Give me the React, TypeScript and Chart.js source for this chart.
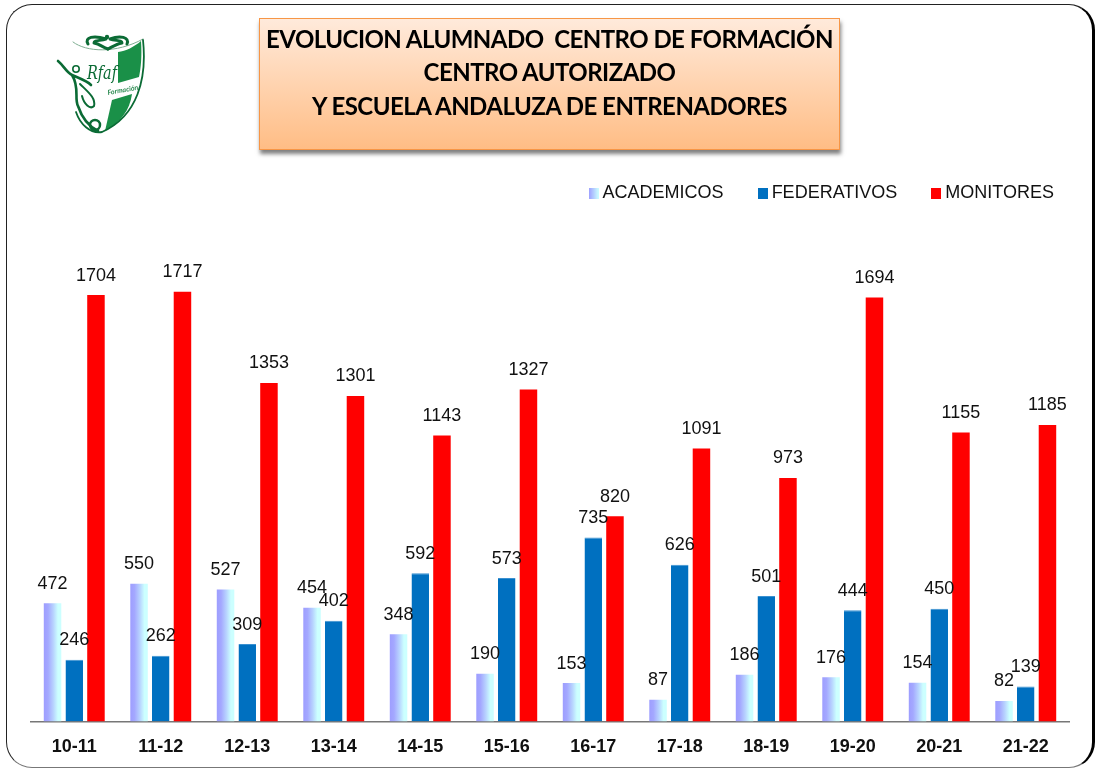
import React, { useEffect, useRef } from "react";
import { Chart, registerables } from "chart.js";

Chart.register(...registerables);

const categories = ["10-11","11-12","12-13","13-14","14-15","15-16","16-17","17-18","18-19","19-20","20-21","21-22"];
const academicos = [472,550,527,454,348,190,153,87,186,176,154,82];
const federativos = [246,262,309,402,592,573,735,626,501,444,450,139];
const monitores = [1704,1717,1353,1301,1143,1327,820,1091,973,1694,1155,1185];
const titleLines = ["EVOLUCION ALUMNADO\u00a0\u00a0CENTRO DE FORMACIÓN","CENTRO AUTORIZADO","Y ESCUELA ANDALUZA DE ENTRENADORES"];

const ARIAL = '"Liberation Sans", Arial, sans-serif';

function swatch(fill: (c: CanvasRenderingContext2D) => void) {
  const cv = document.createElement("canvas");
  cv.width = 10; cv.height = 11;
  const c = cv.getContext("2d")!;
  fill(c);
  c.fillRect(0, 0, 10, 11);
  return cv;
}

const valueLabels = {
  id: "valueLabels",
  afterLayout(chart: any) {
    chart.legend.right = 1093;
  },
  afterDatasetsDraw(chart: any) {
    const { ctx } = chart;
    ctx.save();
    ctx.font = `18px ${ARIAL}`;
    ctx.fillStyle = "#111";
    ctx.textAlign = "center";
    ctx.textBaseline = "middle";
    chart.data.datasets.forEach((ds: any, i: number) => {
      chart.getDatasetMeta(i).data.forEach((bar: any, j: number) => {
        ctx.fillText(String(ds.data[j]), bar.x, bar.y - 19.5);
      });
    });
    ctx.restore();
  },
};

function Logo() {
  const dark = "#0b6b35";
  return (
    <svg width="100" height="110" viewBox="0 0 100 110" style={{ position: "absolute", left: 50, top: 28, filter: "blur(0.35px)" }}>
      <path d="M68 24 C76 23 84 19 91 13 C92 28 91 40 89 49 L68 55 Z" fill="#1a9048" />
      <path d="M82 66 C80 82 70 95 55 103 L62 72 Z" fill="#1a9048" />
      <g fill="none" stroke={dark} strokeLinecap="round" strokeLinejoin="round">
        <path d="M23 14 C36 24 66 26 93 11" stroke="#7fae92" strokeWidth="1" />
        <path d="M38 16 C34 9 44 7 56 11 C50 13 44 12 44 15 C50 16 52 19 58 21" strokeWidth="3" />
        <path d="M77 16 C80 9 70 7 60 11 C66 13 72 12 72 15 C66 16 62 19 58 21" strokeWidth="3" />
        <path d="M93 12 C97 50 88 88 52 104 C40 106 30 96 26 84" strokeWidth="1.8" />
        <path d="M8 33 C14 38 16 44 22 47 C28 50 36 52 41 57 M22 47 C30 60 24 70 28 78 C32 90 38 98 48 103" strokeWidth="2.6" />
        <path d="M30 56 C38 64 46 70 44 78 C40 82 34 76 32 68" strokeWidth="2" />
      </g>
      <circle cx="45" cy="97" r="5" fill="none" stroke={dark} strokeWidth="2.5" />
      <circle cx="57" cy="9" r="2.2" fill={dark} />
      <circle cx="26" cy="41" r="3.2" fill="none" stroke={dark} strokeWidth="1.6" />
      <text x="37" y="51" fontFamily="DejaVu Serif" fontStyle="italic" fontSize="18" textLength="30" lengthAdjust="spacingAndGlyphs" fill={dark}>Rfaf</text>
      <text x="58" y="67" fontFamily="Lato" fontStyle="italic" fontWeight="700" fontSize="7" fill="#2a8a50" transform="rotate(-10 58 67)">Formación</text>
    </svg>
  );
}

export default function App() {
  const ref = useRef<HTMLCanvasElement>(null);
  useEffect(() => {
    const canvas = ref.current!;
    const grad = (chart: any, idx: number) => {
      const x = chart.scales.x.getPixelForValue(idx) - 21.7;
      const g = chart.ctx.createLinearGradient(x - 9, 0, x + 9, 0);
      g.addColorStop(0, "#9d9dff");
      g.addColorStop(0.25, "#a4a8ff");
      g.addColorStop(0.55, "#b8d4ff");
      g.addColorStop(0.8, "#ccffff");
      g.addColorStop(1, "#ccffff");
      return g;
    };
    const chart = new Chart(canvas, {
      type: "bar",
      data: {
        labels: categories,
        datasets: [
          { label: "ACADEMICOS", data: academicos, backgroundColor: (c: any) => grad(c.chart, c.dataIndex) },
          { label: "FEDERATIVOS", data: federativos, backgroundColor: "#0070c0", borderColor: "#3a90d0", borderWidth: { top: 1 } as any },
          { label: "MONITORES", data: monitores, backgroundColor: "#ff0000" },
        ],
      },
      plugins: [valueLabels],
      options: {
        animation: false,
        responsive: false,
        layout: { padding: { left: 31, right: 26, top: 145, bottom: -3 } },
        datasets: { bar: { categoryPercentage: 0.753, barPercentage: 0.806 } },
        scales: {
          x: {
            grid: { display: false, drawTicks: false },
            border: { color: "#777", width: 1.5 },
            ticks: { color: "#111", font: { family: ARIAL, size: 18, weight: "bold" }, padding: 14.5, maxRotation: 0 },
          },
          y: { display: false, min: 0, max: 2036, grid: { display: false } },
        },
        plugins: {
          title: { display: false },
          tooltip: { enabled: false },
          legend: {
            position: "top",
            align: "end",
            labels: {
              color: "#111",
              font: { family: ARIAL, size: 18 },
              usePointStyle: true,
              boxWidth: 0.01,
              padding: 39,
              generateLabels: () => [
                { text: "ACADEMICOS", fontColor: "#111", pointStyle: swatch((c) => { const g = c.createLinearGradient(0,0,10,0); g.addColorStop(0,"#9d9dff"); g.addColorStop(1,"#ccffff"); c.fillStyle = g; }), datasetIndex: 0 },
                { text: "FEDERATIVOS", fontColor: "#111", pointStyle: swatch((c) => { c.fillStyle = "#0070c0"; }), datasetIndex: 1 },
                { text: "MONITORES", fontColor: "#111", pointStyle: swatch((c) => { c.fillStyle = "#ff0000"; }), datasetIndex: 2 },
              ],
            },
          },
        },
      } as any,
    });
    return () => chart.destroy();
  }, []);

  return (
    <div style={{ position: "absolute", left: 0, top: 0, width: 1095, height: 769, background: "#fff", overflow: "hidden" }}>
      <div style={{ position: "absolute", left: 6, top: 4, width: 1085, height: 762, boxSizing: "content-box", background: "#fff", borderRadius: 26, borderTop: "1.5px solid #222", borderLeft: "1.5px solid #222", borderRight: "3px solid #000", borderBottom: "1.5px solid #777" }} />
      <canvas ref={ref} width={1095} height={769} style={{ position: "absolute", left: 0, top: 0 }} />
      <Logo />
      <div style={{ position: "absolute", left: 259, top: 18, width: 581, height: 132, boxSizing: "border-box", border: "1.5px solid #f79646", background: "linear-gradient(#ffeadb, #ffbd85)", boxShadow: "1px 4px 4px rgba(0,0,0,0.5)", textAlign: "center", fontFamily: "Lato, sans-serif", fontWeight: 700, fontSize: 24, letterSpacing: "-0.53px", lineHeight: "33.5px", color: "#000", paddingTop: 2.5, whiteSpace: "nowrap" }}>
        {titleLines.map((l) => <div key={l}>{l}</div>)}
      </div>
    </div>
  );
}
